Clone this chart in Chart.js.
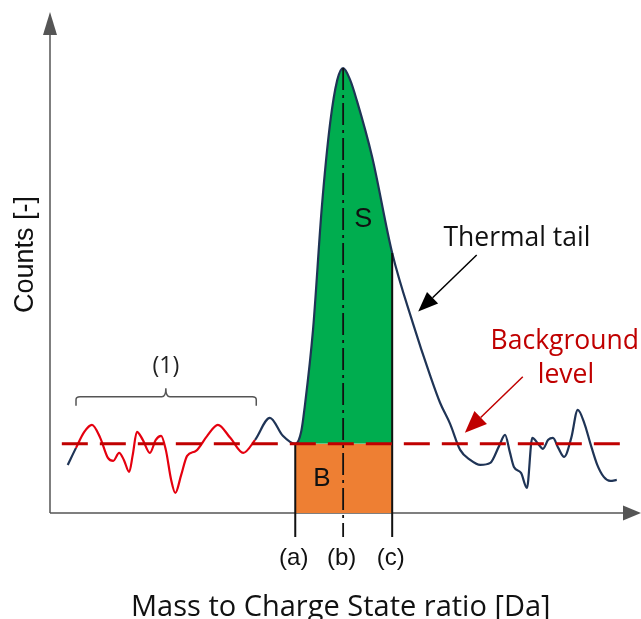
<!DOCTYPE html>
<html>
<head>
<meta charset="utf-8">
<title>Peak integration sketch</title>
<script src="https://cdn.jsdelivr.net/npm/chart.js@4.4.1/dist/chart.umd.min.js"></script>
<style>
  html, body { margin: 0; padding: 0; background: #fff; }
  #wrap { width: 641px; height: 619px; }
</style>
</head>
<body>
<div id="wrap"><canvas id="peakChart" width="641" height="619"></canvas></div>
<script>
// spectrum trace (arbitrary units, 0..100 on both axes)
const massValues = [3.0, 4.4, 5.8, 7.1, 8.5, 9.8, 10.7, 11.7, 12.5, 13.4,
  14.0, 14.7, 15.7, 16.9, 17.9, 18.8, 19.6, 20.5, 21.2, 22.2,
  23.2, 24.7, 26.6, 28.4, 30.5, 32.7, 34.7, 37.2, 39.4, 41.5,
  42.5, 43.1, 44.5, 46.0, 47.4, 48.6, 49.6, 50.8, 51.9, 54.5,
  57.9, 61.4, 64.3, 66.0, 67.7, 69.4, 71.1, 72.8, 74.5, 76.0,
  77.0, 77.8, 78.5, 79.7, 80.7, 81.6, 82.6, 83.4, 84.3, 85.1,
  86.0, 87.0, 88.2, 89.3, 90.5, 91.4, 92.6, 93.7, 94.8, 95.9];
const countValues = [9.6, 13.0, 16.2, 17.6, 15.0, 11.0, 10.4, 12.0, 10.6, 8.2,
  11.6, 16.2, 14.6, 12.0, 14.6, 15.4, 12.6, 6.6, 4.0, 7.6,
  11.4, 12.4, 15.4, 17.6, 15.0, 12.0, 14.6, 19.0, 15.4, 13.8,
  16.2, 21.2, 36.5, 61.1, 77.8, 86.4, 88.8, 86.4, 82.4, 71.1,
  51.9, 37.9, 27.5, 22.0, 17.8, 12.6, 10.6, 9.6, 10.0, 13.4,
  15.6, 12.2, 9.2, 8.0, 5.0, 15.0, 13.8, 12.8, 14.6, 15.0,
  13.0, 11.2, 15.0, 20.6, 17.6, 14.0, 9.6, 7.2, 6.4, 6.6];

// background level and integration window
const backgroundLevel = 13.8;
const backgroundFrom = 2.0;
const backgroundTo = 97.3;
const windowMarks = [41.5, 49.6, 57.9];      // (a) (b) (c)
const windowLabels = ['(a)', '(b)', '(c)'];
const markBottom = -4.8;

// region (1): noise part of the trace
const noiseFrom = 4.4;
const noiseTo = 34.7;

const axisMin = 0;
const axisMax = 100;

const GREEN = '#00ad4f';
const ORANGE = '#ee7f33';
const DARK_RED = '#c00000';
const NAVY = '#1f3456';
const NOISE_RED = '#e5000f';
const CLEAR = 'rgba(0,0,0,0)';

const rangeStart = windowMarks[0];
const peakPosition = windowMarks[1];
const rangeEnd = windowMarks[2];
const peakCounts = Math.max(...countValues);
const countsAtEnd = countValues[massValues.indexOf(rangeEnd)];

const trace = massValues.map((m, i) => ({ x: m, y: countValues[i] }));

/**
 * Horizontal gradient that is green only between (a) and (c)
 */
function signalFill(context) {
    const chart = context.chart;
    const { ctx, chartArea, scales } = chart;
    if (!chartArea || !scales.x) return CLEAR;
    const s = scales.x.getPixelForValue(rangeStart) / chart.width;
    const e = scales.x.getPixelForValue(rangeEnd) / chart.width;
    const g = ctx.createLinearGradient(0, 0, chart.width, 0);
    g.addColorStop(0, CLEAR);
    g.addColorStop(s, CLEAR);
    g.addColorStop(s, GREEN);
    g.addColorStop(e, GREEN);
    g.addColorStop(e, CLEAR);
    g.addColorStop(1, CLEAR);
    return g;
}

function arrow(ctx, x0, y0, x1, y1, color, len, half, width) {
    const ang = Math.atan2(y1 - y0, x1 - x0);
    const bx = x1 - len * Math.cos(ang);
    const by = y1 - len * Math.sin(ang);
    ctx.strokeStyle = color;
    ctx.fillStyle = color;
    ctx.lineWidth = width;
    ctx.beginPath();
    ctx.moveTo(x0, y0);
    ctx.lineTo(bx, by);
    ctx.stroke();
    ctx.beginPath();
    ctx.moveTo(x1, y1);
    ctx.lineTo(bx + half * Math.sin(ang), by - half * Math.cos(ang));
    ctx.lineTo(bx - half * Math.sin(ang), by + half * Math.cos(ang));
    ctx.closePath();
    ctx.fill();
}

function label(ctx, text, x, y, font, color, align) {
    ctx.font = font;
    ctx.fillStyle = color;
    ctx.textAlign = align || 'center';
    ctx.fillText(text, x, y);
}

const sketchPlugin = {
    id: 'sketch',
    beforeDatasetsDraw(chart) {
        const { ctx, chartArea } = chart;
        ctx.save();
        // axes with arrow heads
        arrow(ctx, chartArea.left, chartArea.bottom, chartArea.left, chartArea.top, '#555', 23, 7, 1.5);
        arrow(ctx, chartArea.left, chartArea.bottom, chartArea.right, chartArea.bottom, '#555', 18, 7.5, 1.5);
        ctx.restore();
    },
    afterDatasetsDraw(chart) {
        const { ctx, chartArea, scales: { x, y } } = chart;
        const px = v => x.getPixelForValue(v);
        const py = v => y.getPixelForValue(v);
        ctx.save();
        ctx.textBaseline = 'alphabetic';

        // bracket over region (1)
        const bx0 = px(noiseFrom), bx1 = px(34.9), bxm = px(19.6);
        const byH = py(23.2), byEnd = py(21.4), byTip = py(24.9);
        ctx.strokeStyle = '#555';
        ctx.lineWidth = 1.5;
        ctx.beginPath();
        ctx.moveTo(bx0, byEnd);
        ctx.lineTo(bx0, byH + 3);
        ctx.quadraticCurveTo(bx0, byH, bx0 + 4, byH);
        ctx.lineTo(bxm - 4, byH);
        ctx.quadraticCurveTo(bxm, byH, bxm, byTip);
        ctx.quadraticCurveTo(bxm, byH, bxm + 4, byH);
        ctx.lineTo(bx1 - 4, byH);
        ctx.quadraticCurveTo(bx1, byH, bx1, byH + 3);
        ctx.lineTo(bx1, byEnd);
        ctx.stroke();
        label(ctx, '(1)', bxm, py(27.9), '23px "Open Sans"', '#222');

        // annotation arrows
        arrow(ctx, px(72.2), py(51.5), px(62.3), py(40.2), '#000', 20, 8, 1.5);
        arrow(ctx, px(80.0), py(27.2), px(70.2), py(16.0), DARK_RED, 22, 9, 1.5);

        label(ctx, 'Thermal tail', px(79.0), py(53.2), '26.5px "Open Sans"', '#111');
        label(ctx, 'Background', px(87.1), py(32.7), '26.5px "Open Sans"', DARK_RED);
        label(ctx, 'level', px(87.3), py(25.9), '26.5px "Open Sans"', DARK_RED);

        // area labels
        ctx.textBaseline = 'middle';
        label(ctx, 'S', px(53.0), py(58.5), '27px "Liberation Sans"', '#111');
        label(ctx, 'B', px(46.0), py(6.8), '26px "Liberation Sans"', '#111');

        ctx.textBaseline = 'alphabetic';
        windowMarks.forEach((m, i) => {
            label(ctx, windowLabels[i], px(m) - 1.5, py(-10.4), '24px "Liberation Sans"', '#111');
        });

        // axis titles
        label(ctx, 'Mass to Charge State ratio [Da]', px(49.2), py(-20.6), '29px "Open Sans"', '#111');
        ctx.translate(chartArea.left - 17, py(51.6));
        ctx.rotate(-Math.PI / 2);
        label(ctx, 'Counts [-]', 0, 0, '27px "Liberation Sans"', '#111');
        ctx.restore();
    }
};

new Chart(document.getElementById('peakChart'), {
    type: 'line',
    data: {
        datasets: [
            {
                label: 'Background level',
                data: [{ x: backgroundFrom, y: backgroundLevel }, { x: backgroundTo, y: backgroundLevel }],
                borderColor: DARK_RED,
                borderWidth: 3,
                borderDash: [26, 12],
                pointRadius: 0,
                fill: false
            },
            {
                label: '(a)',
                data: [{ x: rangeStart, y: backgroundLevel }, { x: rangeStart, y: markBottom }],
                borderColor: '#111',
                borderWidth: 2,
                pointRadius: 0,
                clip: false,
                fill: false
            },
            {
                label: '(c)',
                data: [{ x: rangeEnd, y: countsAtEnd }, { x: rangeEnd, y: markBottom }],
                borderColor: '#111',
                borderWidth: 2,
                pointRadius: 0,
                clip: false,
                fill: false
            },
            {
                label: '(b)',
                data: [{ x: peakPosition, y: peakCounts }, { x: peakPosition, y: markBottom }],
                borderColor: '#111',
                borderWidth: 1.8,
                borderDash: [22, 5, 3, 5],
                pointRadius: 0,
                clip: false,
                fill: false
            },
            {
                label: 'Counts',
                data: trace,
                borderColor: NAVY,
                borderWidth: 2.2,
                borderJoinStyle: 'round',
                cubicInterpolationMode: 'monotone',
                pointRadius: 0,
                backgroundColor: signalFill,
                fill: { target: { value: backgroundLevel }, below: CLEAR },
                segment: {
                    borderColor: ctx => (ctx.p0.parsed.x >= noiseFrom && ctx.p1.parsed.x <= noiseTo) ? NOISE_RED : NAVY
                }
            },
            {
                label: 'B',
                data: [{ x: rangeStart, y: backgroundLevel }, { x: rangeEnd, y: backgroundLevel }],
                borderWidth: 0,
                pointRadius: 0,
                backgroundColor: ORANGE,
                fill: 'origin'
            }
        ]
    },
    options: {
        responsive: false,
        animation: false,
        events: [],
        layout: { padding: { left: 50, right: 0, top: 12, bottom: 106 } },
        scales: {
            x: { type: 'linear', min: axisMin, max: axisMax, display: false },
            y: { type: 'linear', min: axisMin, max: axisMax, display: false }
        },
        plugins: {
            legend: { display: false },
            tooltip: { enabled: false }
        }
    },
    plugins: [sketchPlugin]
});
</script>
</body>
</html>
